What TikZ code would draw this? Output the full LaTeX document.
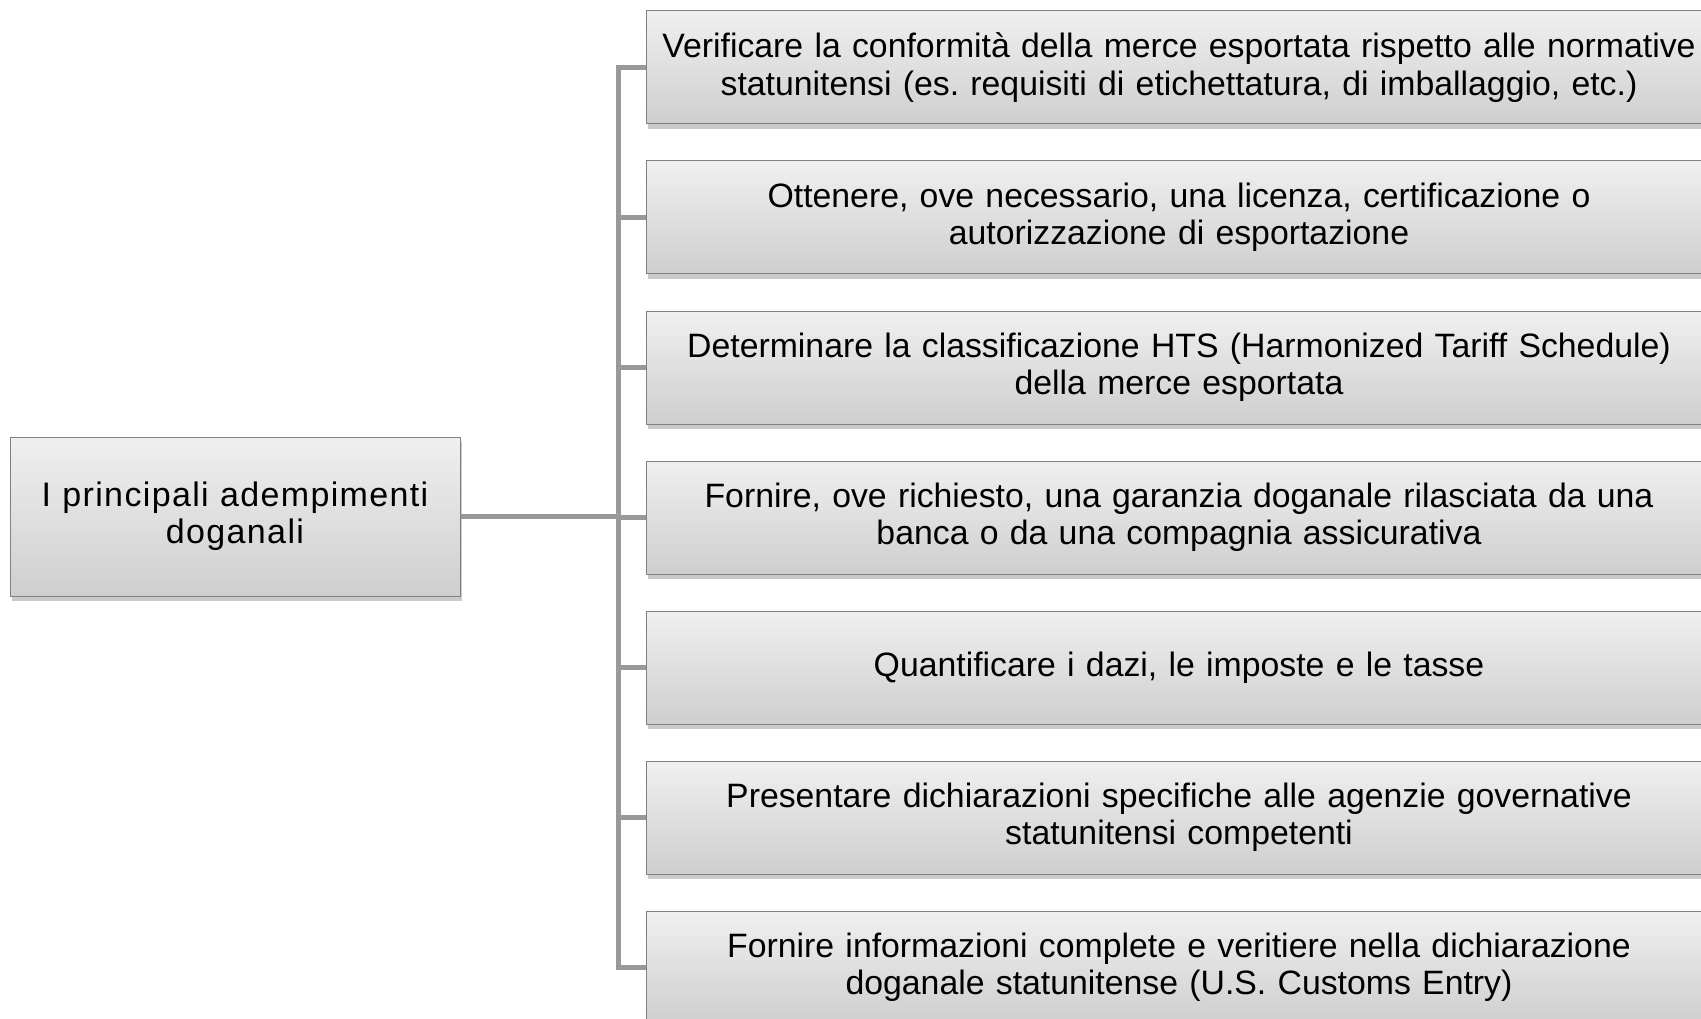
\documentclass[tikz,border=0pt]{standalone}
\usepackage{fontspec}
\setmainfont{Liberation Sans}
\usetikzlibrary{positioning,shadows}
\frenchspacing

\begin{document}
\begin{tikzpicture}[x=1pt,y=1pt,node distance=150pt,
                    box/.style={rectangle,draw=black!50,line width=1pt,
                      top color=gray!12,bottom color=gray!38,
                      drop shadow={shadow xshift=2pt,shadow yshift=-5pt,opacity=0.35,fill=black!60},
                      align=center,inner sep=0pt,font=\fontsize{33.8}{37.5}\selectfont},
                    item node/.style={box,minimum width=1066pt,minimum height=113pt,text width=1060pt},
                    root node/.style={box,minimum width=450pt,minimum height=159pt,text width=440pt,
                      font=\fontsize{34}{37}\selectfont\addfontfeatures{LetterSpace=4}},
                    link/.style={draw=gray!80,line width=5.5pt}]
                \useasboundingbox (0,0) rectangle (1701,-1019);
                \node[root node] (root) at (235,-516.5) {I principali adempimenti\\doganali};
                \node[item node] (1) at (1179,-67.5) {Verificare la conformità della merce esportata rispetto alle normative\\statunitensi (es. requisiti di etichettatura, di imballaggio, etc.)};
                \node[item node] (2) [below of=1] {Ottenere, ove necessario, una licenza, certificazione o\\autorizzazione di esportazione};
                \node[item node] (3) [below of=2] {Determinare la classificazione HTS (Harmonized Tariff Schedule)\\della merce esportata};
                \node[item node] (4) [below of=3] {Fornire, ove richiesto, una garanzia doganale rilasciata da una\\banca o da una compagnia assicurativa};
                \node[item node] (5) [below of=4] {Quantificare i dazi, le imposte e le tasse};
                \node[item node] (6) [below of=5] {Presentare dichiarazioni specifiche alle agenzie governative\\statunitensi competenti};
                \node[item node] (7) [below of=6] {Fornire informazioni complete e veritiere nella dichiarazione\\doganale statunitense (U.S. Customs Entry)};
                \path[link] (root.east) -- ++(158,0) coordinate (hub);
                \foreach \i in {1,...,7}
                    \path[link] (\i.west) -| (hub);
\end{tikzpicture}
\end{document}
